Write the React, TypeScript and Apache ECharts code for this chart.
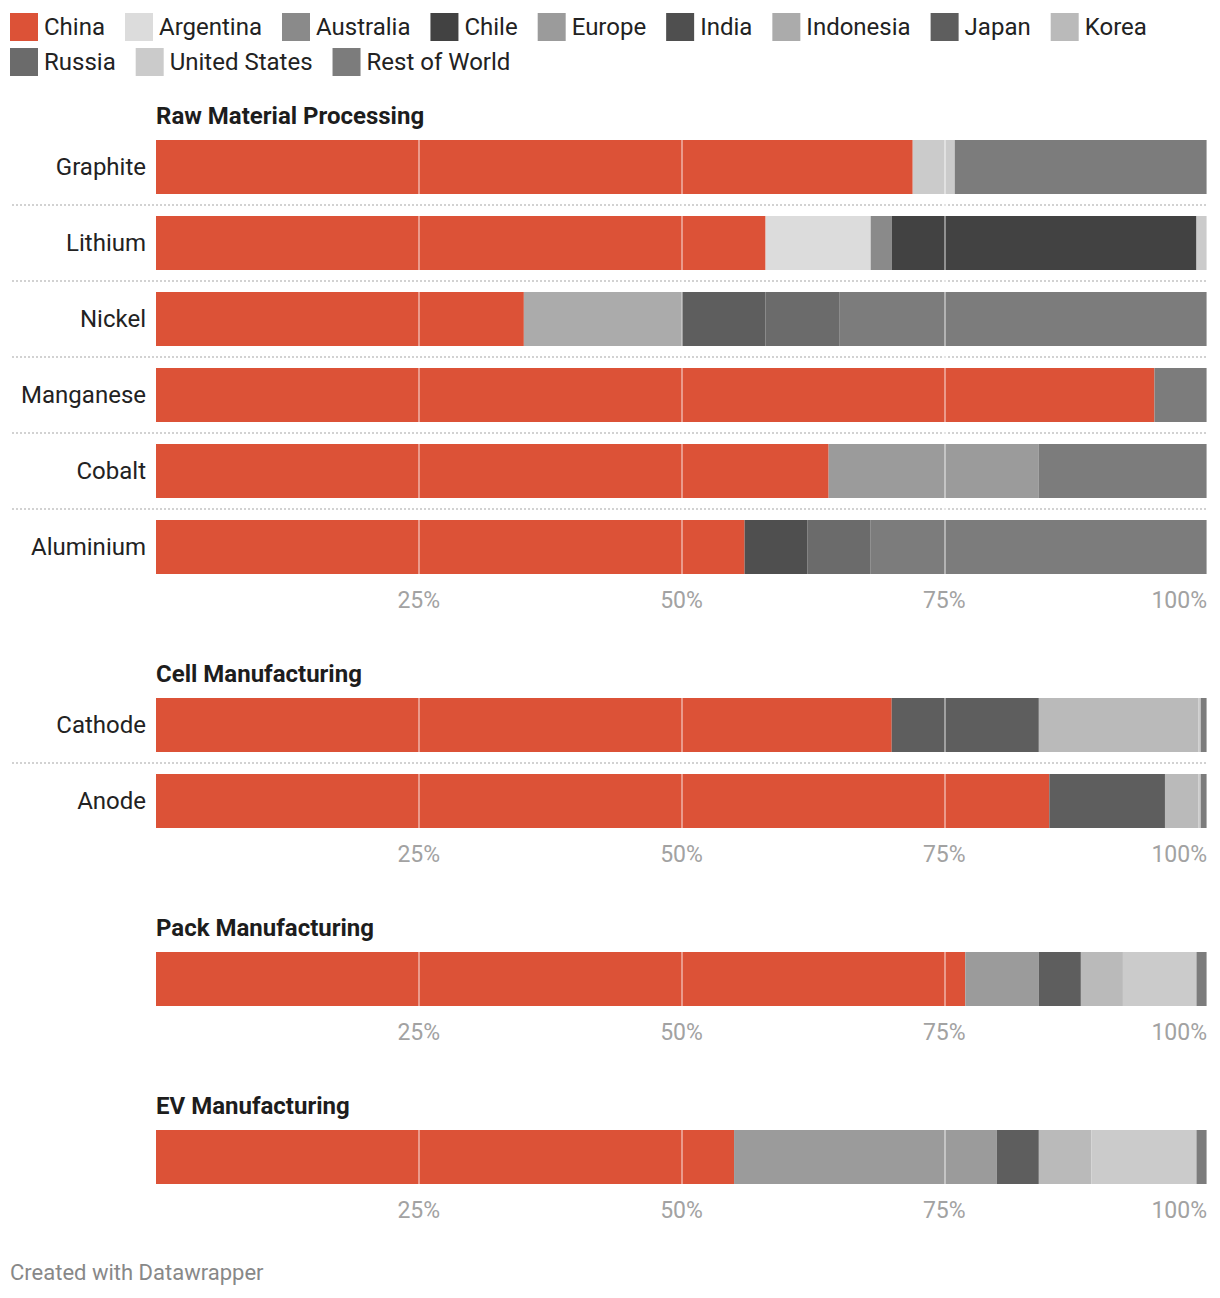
import React, { useEffect, useRef } from "react";
import * as echarts from "echarts";

// ---- Data ----
const COUNTRIES = [
  "China", "Argentina", "Australia", "Chile", "Europe", "India",
  "Indonesia", "Japan", "Korea", "Russia", "United States", "Rest of World",
];
const COUNTRY_COLORS = [
  "#dc5237", "#dcdcdc", "#8a8a8a", "#424242", "#9b9b9b", "#4f4f4f",
  "#ababab", "#5e5e5e", "#bababa", "#6b6b6b", "#cbcbcb", "#7c7c7c",
];
const LEGEND_ROW_1 = COUNTRIES.slice(0, 9);
const LEGEND_ROW_2 = COUNTRIES.slice(9);

const SECTION_TITLES = [
  "Raw Material Processing",
  "Cell Manufacturing",
  "Pack Manufacturing",
  "EV Manufacturing",
];

const RAW_CATEGORIES = ["Graphite", "Lithium", "Nickel", "Manganese", "Cobalt", "Aluminium"];
const CELL_CATEGORIES = ["Cathode", "Anode"];
const PACK_CATEGORIES = ["Pack Manufacturing"];
const EV_CATEGORIES = ["EV Manufacturing"];

// shares in % per country, one value per category
const RAW_SHARES: Record<string, number[]> = {
  China: [72, 58, 35, 95, 64, 56],
  Argentina: [0, 10, 0, 0, 0, 0],
  Australia: [0, 2, 0, 0, 0, 0],
  Chile: [0, 29, 0, 0, 0, 0],
  Europe: [0, 0, 0, 0, 20, 0],
  India: [0, 0, 0, 0, 0, 6],
  Indonesia: [0, 0, 15, 0, 0, 0],
  Japan: [0, 0, 8, 0, 0, 0],
  Russia: [0, 0, 7, 0, 0, 6],
  "United States": [4, 1, 0, 0, 0, 0],
  "Rest of World": [24, 0, 35, 5, 16, 32],
};
const CELL_SHARES: Record<string, number[]> = {
  China: [70, 85],
  Japan: [14, 11],
  Korea: [15.2, 3.2],
  "United States": [0.2, 0.2],
  "Rest of World": [0.6, 0.6],
};
const PACK_SHARES: Record<string, number[]> = {
  China: [77],
  Europe: [7],
  Japan: [4],
  Korea: [4],
  "United States": [7],
  "Rest of World": [1],
};
const EV_SHARES: Record<string, number[]> = {
  China: [55],
  Europe: [25],
  Japan: [4],
  Korea: [5],
  "United States": [10],
  "Rest of World": [1],
};

const X_TICKS = [0, 25, 50, 75, 100];
const GRID_MARKS = [25, 50, 75, 100];

const SECTIONS = [
  { cats: RAW_CATEGORIES, shares: RAW_SHARES, top: 129, showLabels: true },
  { cats: CELL_CATEGORIES, shares: CELL_SHARES, top: 687, showLabels: true },
  { cats: PACK_CATEGORIES, shares: PACK_SHARES, top: 941, showLabels: false },
  { cats: EV_CATEGORIES, shares: EV_SHARES, top: 1119, showLabels: false },
];

const BAND = 76;
const FONT = "Roboto, 'Noto Sans', sans-serif";

export default function App() {
  const ref = useRef<HTMLDivElement>(null);

  useEffect(() => {
    document.body.style.margin = "0";
    if (!ref.current) return;
    const chart = echarts.init(ref.current, undefined, { renderer: "svg" });

    const grids = SECTIONS.map((s) => ({
      left: 156,
      right: 13,
      top: s.top,
      height: s.cats.length * BAND,
      containLabel: false,
    }));

    const xAxes = SECTIONS.map((_, g) => ({
      type: "value",
      gridIndex: g,
      min: X_TICKS[0],
      max: X_TICKS[X_TICKS.length - 1],
      interval: 25,
      axisLine: { show: false },
      axisTick: { show: false },
      splitLine: { show: false },
      axisLabel: {
        formatter: "{value}%",
        showMinLabel: false,
        alignMaxLabel: "right",
        color: "#a2a2a2",
        fontSize: 23,
        fontFamily: FONT,
        margin: 4,
      },
    }));

    const yAxes = SECTIONS.map((s, g) => ({
      type: "category",
      gridIndex: g,
      data: s.cats,
      inverse: true,
      axisLine: { show: false },
      axisTick: { show: false },
      splitLine: { show: false },
      axisLabel: {
        show: s.showLabels,
        color: "#222222",
        fontSize: 24,
        fontFamily: FONT,
        margin: 10,
      },
    }));

    const series: any[] = [];
    SECTIONS.forEach((s, g) => {
      const present = COUNTRIES.filter((c) => s.shares[c]);
      present.forEach((c, k) => {
        const isLast = k === present.length - 1;
        series.push({
          type: "bar",
          name: c,
          stack: "s" + g,
          xAxisIndex: g,
          yAxisIndex: g,
          barWidth: 54,
          data: s.shares[c],
          itemStyle: { color: COUNTRY_COLORS[COUNTRIES.indexOf(c)] },
          emphasis: { disabled: true },
          markLine: isLast
            ? {
                silent: true,
                symbol: "none",
                z: 5,
                label: { show: false },
                lineStyle: { color: "rgba(255,255,255,0.42)", width: 2, type: "solid" },
                data: GRID_MARKS.map((v) => ({ xAxis: v })),
              }
            : undefined,
        });
      });
    });

    const legendCommon = {
      left: 10,
      orient: "horizontal",
      icon: "rect",
      itemWidth: 28,
      itemHeight: 28,
      itemGap: 20,
      padding: 0,
      selectedMode: false,
      textStyle: { color: "#222222", fontSize: 24, fontFamily: FONT, padding: [0, 0, 0, 1] },
    };

    const titleTops = [104, 662, 916, 1094];

    chart.setOption({
      animation: false,
      textStyle: { fontFamily: FONT },
      title: [
        ...SECTION_TITLES.map((t, i) => ({
          text: t,
          left: 156,
          top: titleTops[i],
          padding: 0,
          textStyle: { fontSize: 24, fontWeight: "bold", color: "#1d1d1d", fontFamily: FONT },
        })),
        {
          text: "Created with Datawrapper",
          left: 10,
          top: 1261,
          padding: 0,
          textStyle: { fontSize: 22, fontWeight: "normal", color: "#888888", fontFamily: FONT },
        },
      ],
      legend: [
        { ...legendCommon, top: 13, data: LEGEND_ROW_1 },
        { ...legendCommon, top: 48, data: LEGEND_ROW_2 },
      ],
      grid: grids,
      xAxis: xAxes,
      yAxis: yAxes,
      series,
    });

    // dotted separators between rows, from the category axis positions
    const lines: any[] = [];
    SECTIONS.forEach((s, g) => {
      const xEnd = chart.convertToPixel({ xAxisIndex: g }, 100) as number;
      for (let i = 0; i < s.cats.length - 1; i++) {
        const y1 = chart.convertToPixel({ yAxisIndex: g }, s.cats[i]) as number;
        const y2 = chart.convertToPixel({ yAxisIndex: g }, s.cats[i + 1]) as number;
        const y = Math.round((y1 + y2) / 2);
        lines.push({
          type: "line",
          silent: true,
          shape: { x1: 12, y1: y, x2: xEnd, y2: y },
          style: { stroke: "#d2d2d2", lineWidth: 2, lineDash: [2, 2] },
        });
      }
    });
    chart.setOption({ graphic: lines });

    return () => chart.dispose();
  }, []);

  return <div ref={ref} style={{ width: 1220, height: 1298 }} />;
}
